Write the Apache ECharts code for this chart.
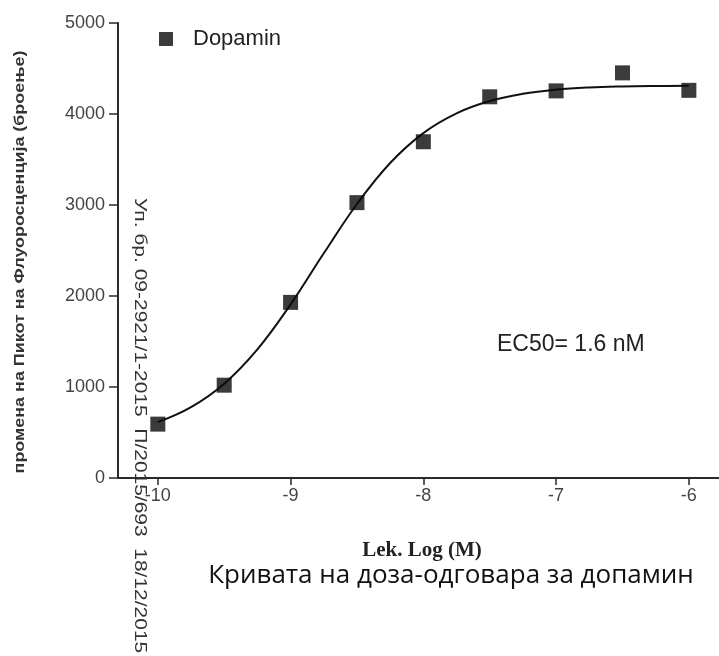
<!DOCTYPE html>
<html>
<head>
<meta charset="utf-8">
<script src="https://cdn.jsdelivr.net/npm/echarts@6/dist/echarts.min.js"></script>
<style>
  html, body { margin: 0; padding: 0; background: #fff; }
  #main { width: 719px; height: 656px; }
</style>
</head>
<body>
<div id="main"></div>
<script>
// measured points (log M, response)
const doseLog = [-10, -9.5, -9, -8.5, -8, -7.5, -7, -6.5, -6];
const response = [592, 1020, 1930, 3026, 3695, 4189, 4254, 4452, 4260];

// fitted curve
const curveLog = [-10, -9.75, -9.5, -9.25, -9, -8.75, -8.5, -8.25, -8, -7.75, -7.5, -7.25, -7, -6.75, -6.5, -6.25, -6];
const curveVal = [614, 779, 1037, 1414, 1908, 2469, 3011, 3461, 3790, 4007, 4142, 4222, 4268, 4292, 4303, 4308, 4310];

const xTicks = [-10, -9, -8, -7, -6];

const myChart = echarts.init(document.getElementById("main"));

myChart.setOption({
  animation: false,
  textStyle: { fontFamily: "Liberation Sans, Arial, sans-serif" },
  legend: {
    left: 159,
    top: 28,
    padding: 0,
    icon: "rect",
    itemWidth: 14,
    itemHeight: 14,
    textStyle: { fontSize: 22, color: "#222", padding: [0, 0, 0, 15] },
    data: ["Dopamin"],
  },
  grid: {
    left: 118,
    right: 0,
    top: 23,
    bottom: 178,
  },
  xAxis: {
    type: "value",
    min: -10.3,
    max: -5.773,
    splitLine: { show: false },
    axisLine: { lineStyle: { color: "#2a2a2a", width: 2 } },
    axisTick: {
      customValues: xTicks,
      length: 7,
      lineStyle: { color: "#2a2a2a", width: 1.5 },
    },
    axisLabel: {
      customValues: xTicks,
      fontSize: 18,
      color: "#444",
      margin: 9,
    },
  },
  yAxis: {
    type: "value",
    min: 0,
    max: 5000,
    interval: 1000,
    splitLine: { show: false },
    axisLine: { onZero: false, lineStyle: { color: "#2a2a2a", width: 2 } },
    axisTick: { length: 9, lineStyle: { color: "#2a2a2a", width: 1.5 } },
    axisLabel: {
      fontSize: 18,
      color: "#444",
      margin: 13,
      formatter: (v) => String(v),
    },
  },
  series: [
    {
      name: "fit",
      type: "line",
      smooth: 0.4,
      symbol: "none",
      lineStyle: { color: "#111", width: 2 },
      data: curveLog.map((x, i) => [x, curveVal[i]]),
      z: 2,
    },
    {
      name: "Dopamin",
      type: "scatter",
      symbol: "rect",
      symbolSize: 15,
      itemStyle: { color: "#0a0a0a" },
      data: doseLog.map((x, i) => [x, response[i]]),
      z: 3,
    },
  ],
  graphic: [
    {
      type: "text",
      x: 20,
      y: 262,
      rotation: Math.PI / 2,
      scaleX: 1.28,
      style: {
        text: "промена на Пикот на Флуоросценција (броење)",
        font: "bold 14px Liberation Sans, Arial, sans-serif",
        fill: "#333",
        align: "center",
        verticalAlign: "middle",
      },
    },
    {
      // stamp printed along the y axis
      type: "text",
      x: 139,
      y: 198,
      rotation: -Math.PI / 2,
      scaleX: 1.31,
      style: {
        text: "Уп. бр. 09-2921/1-2015  П/2015/693  18/12/2015",
        font: "16px Liberation Sans, Arial, sans-serif",
        fill: "#333",
        align: "left",
        verticalAlign: "middle",
      },
    },
    {
      type: "text",
      x: 497,
      y: 345,
      style: {
        text: "EC50= 1.6 nM",
        font: "23px Liberation Sans, Arial, sans-serif",
        fill: "#222",
        align: "left",
        verticalAlign: "middle",
      },
    },
    {
      type: "text",
      x: 422,
      y: 551,
      style: {
        text: "Lek. Log (M)",
        font: "bold 21px Liberation Serif, Times New Roman, serif",
        fill: "#222",
        align: "center",
        verticalAlign: "middle",
      },
    },
    {
      type: "text",
      x: 451,
      y: 576,
      style: {
        text: "Кривата на доза-одговара за допамин",
        font: "26px Open Sans, Noto Sans, sans-serif",
        fill: "#111",
        align: "center",
        verticalAlign: "middle",
      },
    },
  ],
});

window.addEventListener("resize", function () {
  myChart.resize();
});
</script>
</body>
</html>
